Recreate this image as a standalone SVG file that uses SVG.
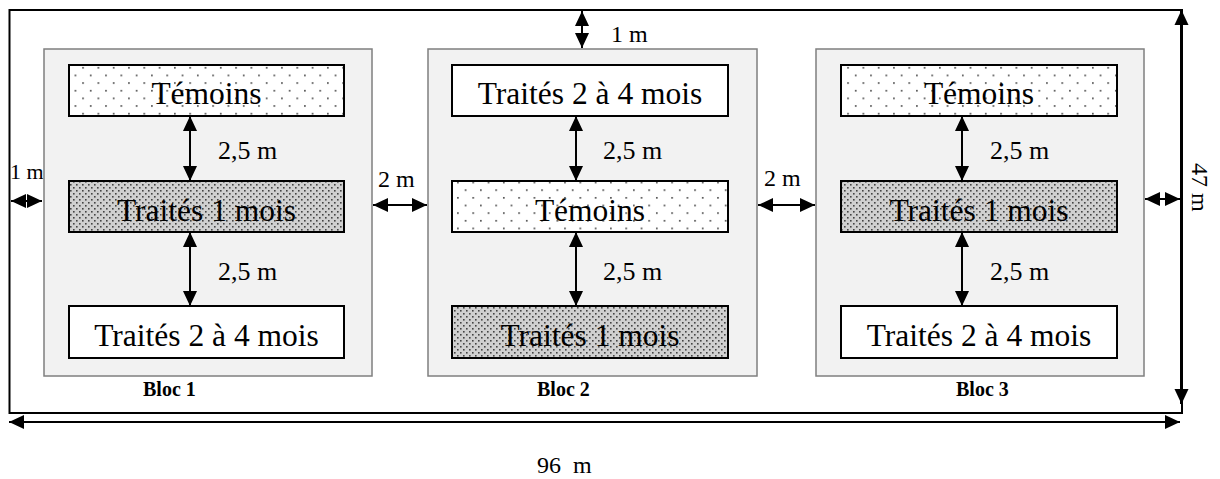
<svg xmlns="http://www.w3.org/2000/svg" width="1220" height="479" viewBox="0 0 1220 479">
<style>
.blk{fill:#f2f2f2;stroke:#7f7f7f;stroke-width:1.5}
.box{stroke:#000;stroke-width:2}
.wht{fill:#fff}
.dot{fill:url(#dots)}
.gry{fill:url(#dense)}
.bt{font-family:"Liberation Serif","Times New Roman",serif;font-size:31.5px;text-anchor:middle;fill:#000}
.lb{font-family:"Liberation Serif","Times New Roman",serif;font-size:24px;fill:#000}
.lb25{font-family:"Liberation Serif","Times New Roman",serif;font-size:26px;fill:#000}
.bl{font-family:"Liberation Serif","Times New Roman",serif;font-size:20px;font-weight:bold;fill:#000}
.arr{stroke:#000;stroke-width:2;fill:none;marker-start:url(#ah);marker-end:url(#ah)}
</style>
<defs>
<marker id="ah" markerUnits="userSpaceOnUse" markerWidth="16" markerHeight="15" refX="15" refY="7" orient="auto-start-reverse" viewBox="0 0 16 14">
<path d="M0,0 L15,7 L0,14 z" fill="#000"/>
</marker>
<pattern id="dots" patternUnits="userSpaceOnUse" x="5.7" y="5.7" width="15.3" height="15.3">
<rect width="15.3" height="15.3" fill="#fff"/>
<rect x="0" y="0" width="1.7" height="1.7" fill="#555"/>
<rect x="7.65" y="7.65" width="1.7" height="1.7" fill="#555"/>
</pattern>
<pattern id="dense" patternUnits="userSpaceOnUse" width="6" height="6">
<rect width="6" height="6" fill="#d0d0d0"/>
<rect x="1" y="1" width="1.6" height="1.6" fill="#444"/>
<rect x="4" y="4" width="1.6" height="1.6" fill="#444"/>
</pattern>
</defs>
<rect width="1220" height="479" fill="#fff"/>
<rect id="field" x="9.5" y="10" width="1172.5" height="403" fill="none" stroke="#000" stroke-width="2"/>
<text class="lb" x="10" y="179" style="font-size:22px">1 m</text>
<g id="bloc1">
<rect class="blk" x="44" y="49" width="328" height="327"/>
<rect class="box dot" x="69" y="65" width="275" height="51"/>
<text class="bt" x="206.5" y="104">Témoins</text>
<rect class="box gry" x="69" y="181" width="275" height="51"/>
<text class="bt" x="206.5" y="221">Traités 1 mois</text>
<rect class="box wht" x="69" y="306" width="275" height="52"/>
<text class="bt" x="206.5" y="346">Traités 2 à 4 mois</text>
<text class="bl" x="143" y="396">Bloc 1</text>
</g>
<g id="bloc2">
<rect class="blk" x="428" y="49" width="329" height="327"/>
<rect class="box wht" x="452" y="65" width="276" height="51"/>
<text class="bt" x="590" y="104">Traités 2 à 4 mois</text>
<rect class="box dot" x="452" y="181" width="276" height="51"/>
<text class="bt" x="590" y="221">Témoins</text>
<rect class="box gry" x="452" y="306" width="276" height="52"/>
<text class="bt" x="590" y="346">Traités 1 mois</text>
<text class="bl" x="537" y="396">Bloc 2</text>
</g>
<g id="bloc3">
<rect class="blk" x="816" y="49" width="328" height="327"/>
<rect class="box dot" x="841" y="65" width="276" height="51"/>
<text class="bt" x="979" y="104">Témoins</text>
<rect class="box gry" x="841" y="181" width="276" height="51"/>
<text class="bt" x="979" y="221">Traités 1 mois</text>
<rect class="box wht" x="841" y="306" width="276" height="52"/>
<text class="bt" x="979" y="346">Traités 2 à 4 mois</text>
<text class="bl" x="956" y="396">Bloc 3</text>
</g>
<g id="connectors">
<line class="arr" x1="190" y1="116" x2="190" y2="181"/>
<line class="arr" x1="190" y1="232" x2="190" y2="306"/>
<line class="arr" x1="576" y1="116" x2="576" y2="181"/>
<line class="arr" x1="576" y1="232" x2="576" y2="306"/>
<line class="arr" x1="962" y1="116" x2="962" y2="181"/>
<line class="arr" x1="962" y1="232" x2="962" y2="306"/>
<line class="arr" x1="11" y1="201" x2="42" y2="201"/>
<line class="arr" x1="373" y1="205" x2="427" y2="205"/>
<line class="arr" x1="758" y1="205" x2="815" y2="205"/>
<line class="arr" x1="1145" y1="199" x2="1180" y2="199"/>
<line class="arr" x1="582" y1="11" x2="582" y2="48"/>
<line class="arr" x1="9" y1="422" x2="1180" y2="422"/>
<line class="arr" style="stroke-width:3" x1="1181.5" y1="10" x2="1181.5" y2="404"/>
</g>
<g id="labels">
<text class="lb25" x="218" y="159">2,5 m</text>
<text class="lb25" x="218" y="280">2,5 m</text>
<text class="lb25" x="603" y="159">2,5 m</text>
<text class="lb25" x="603" y="280">2,5 m</text>
<text class="lb25" x="990" y="159">2,5 m</text>
<text class="lb25" x="990" y="280">2,5 m</text>
<text class="lb" x="611" y="42">1 m</text>
<text class="lb" x="378" y="187">2 m</text>
<text class="lb" x="764" y="186">2 m</text>
<text class="lb" x="537" y="473" xml:space="preserve">96  m</text>
<text class="lb" transform="translate(1192,163) rotate(90)">47 m</text>
</g>
</svg>
